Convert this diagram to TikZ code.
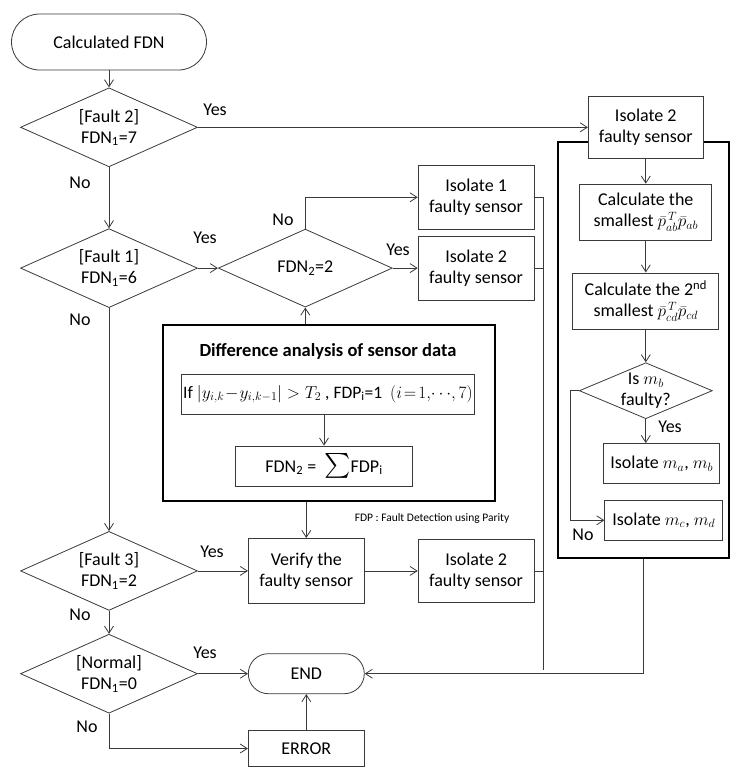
\documentclass[tikz,border=0pt]{standalone}
\usepackage{fontspec}
\setmainfont{Carlito}
\usepackage{amsmath}
\usetikzlibrary{arrows.meta,positioning,shapes.geometric}
\definecolor{ink}{HTML}{3A3A3A}
\tikzset{
  terminal/.style={draw=ink,line width=0.8pt,rounded corners=20pt,fill=white,
                   minimum width=116pt,minimum height=40pt,inner sep=0pt,align=center},
  process/.style={draw=ink,line width=0.8pt,fill=white,minimum width=116pt,
                  minimum height=64pt,inner sep=0pt,align=center},
  decision/.style={diamond,draw=ink,line width=0.8pt,fill=white,minimum width=177pt,
                   minimum height=79pt,aspect=2.24,inner sep=-8pt,align=center},
  frame/.style={draw=black,line width=2pt,inner sep=0pt},
  arrow/.style={-{Straight Barb[length=7pt,width=9pt]},draw=ink,line width=0.8pt},
  link/.style={draw=ink,line width=0.8pt},
  lbl/.style={inner sep=1pt}
}

\begin{document}
\begin{tikzpicture}[x=1pt,y=1pt,font=\fontsize{18}{21}\selectfont]
\useasboundingbox (0,0) rectangle (744,-777);
% left column
\node[terminal,minimum width=195pt,minimum height=56pt,rounded corners=28pt] (start) at (109,-42) {Calculated FDN};
\node[decision,below=17pt of start] (fault2) {[Fault 2]\\FDN\textsubscript{1}=7};
\node[decision,below=61pt of fault2] (fault1) {[Fault 1]\\FDN\textsubscript{1}=6};
\node[decision,below=223pt of fault1] (fault3) {[Fault 3]\\FDN\textsubscript{1}=2};
\node[decision,below=23pt of fault3] (normal) {[Normal]\\FDN\textsubscript{1}=0};
% middle
\node[decision,minimum width=174pt,minimum height=78pt,aspect=2.23,right=20pt of fault1] (fdn2) {FDN\textsubscript{2}=2};
\node[process,right=25pt of fdn2] (isoB) {Isolate 2\\faulty sensor};
\node[process,above=6pt of isoB] (isoA) {Isolate 1\\faulty sensor};
\node[frame,minimum width=332pt,minimum height=176pt] (diff) at (329,-413) {};
\node[font=\fontsize{18.5}{22}\selectfont\bfseries] (title) at (328,-351) {Difference analysis of sensor data};
\node[process,minimum width=293pt,minimum height=40pt,font=\fontsize{17.5}{20}\selectfont] (ifbox) at (328,-394)
  {If $\left|y_{i,k}\!-\!y_{i,k-1}\right|>T_2$ , FDP\textsubscript{i}=1 \ $(i\!=\!1,\!\cdots\!,7)$};
\node[process,minimum width=177pt,minimum height=40pt] (sumbox) at (324,-466)
  {FDN\textsubscript{2} = \ {\fontsize{24}{24}\selectfont$\sum$}FDP\textsubscript{i}};
\node[font=\fontsize{11.5}{14}\selectfont] (note) at (432,-518) {FDP : Fault Detection using Parity};
\node[process,minimum height=65pt,right=50pt of fault3] (verify) {Verify the\\faulty sensor};
\node[process,minimum height=63pt,right=53pt of verify] (isoC) {Isolate 2\\faulty sensor};
\node[terminal,right=50pt of normal] (endn) {END};
\node[process,minimum height=36pt,below=36pt of endn] (error) {ERROR};
% right branch
\node[frame,minimum width=171pt,minimum height=416pt] (bigbox) at (643.5,-350) {};
\node[process,minimum width=115pt,minimum height=62pt,right=390pt of fault2] (isoR) {Isolate 2\\faulty sensor};
\node[process,minimum width=132pt,minimum height=56pt,below=25pt of isoR] (calc1)
  {Calculate the\\smallest $\bar{p}^{\,T}_{ab}\bar{p}_{ab}$};
\node[process,minimum width=146pt,minimum height=56pt,below=32pt of calc1] (calc2)
  {Calculate the 2\textsuperscript{nd}\\smallest $\bar{p}^{\,T}_{cd}\bar{p}_{cd}$};
\node[decision,minimum width=133pt,minimum height=56pt,aspect=2.375,below=33pt of calc2] (isq) {Is $m_b$\\faulty?};
\node[process,minimum height=40pt,below=24pt of isq,xshift=16pt] (isoab) {Isolate $m_a$, $m_b$};
\node[process,minimum width=118pt,minimum height=40pt,below=16pt of isoab,xshift=2pt] (isocd) {Isolate $m_c$, $m_d$};
% labels
\node[lbl] (y1) at (215,-110) {Yes};
\node[lbl] (n1) at (80,-183) {No};
\node[lbl] (y2) at (205,-238) {Yes};
\node[lbl] (n2) at (283,-220) {No};
\node[lbl] (y3) at (398,-250) {Yes};
\node[lbl] (n3) at (80,-320) {No};
\node[lbl] (y4) at (212,-552) {Yes};
\node[lbl] (n4) at (80,-615) {No};
\node[lbl] (y5) at (205,-653) {Yes};
\node[lbl] (n5) at (87,-727) {No};
\node[lbl] (y6) at (670,-427) {Yes};
\node[lbl] (n6) at (583,-535) {No};
% connectors
\draw[arrow] (start) -- (fault2);
\draw[arrow] (fault2) -- (fault1);
\draw[arrow] (fault1) -- (fault3);
\draw[arrow] (fault3) -- (normal);
\draw[arrow] (fault2) -- (isoR);
\draw[arrow] (fault1) -- (fdn2);
\draw[arrow] (fdn2.north) |- (isoA.west);
\draw[arrow] (fdn2) -- (isoB);
\draw[arrow] (diff.north -| fdn2.south) -- (fdn2.south);
\draw[arrow] (ifbox.south -| sumbox.north) -- (sumbox.north);
\draw[arrow] (diff.south -| verify.north) -- (verify.north);
\draw[arrow] (fault3) -- (verify);
\draw[arrow] (verify) -- (isoC);
\draw[arrow] (normal) -- (endn);
\draw[arrow] (normal.south) |- (error.west);
\draw[arrow] (error) -- (endn);
\coordinate (join) at (543,-670);
\draw[link] (isoA.east) -| (join);
\draw[link] (isoB.east) -| (join);
\draw[link] (isoC.east) -| (join);
\draw[arrow] (bigbox.south) |- (endn.east);
\draw[arrow] (isoR) -- (calc1);
\draw[arrow] (calc1) -- (calc2);
\draw[arrow] (calc2) -- (isq);
\draw[arrow] (isq.south) -- (isq.south |- isoab.north);
\draw[arrow] (isq.west) -- ++(-9,0) |- (isocd.west);
\end{tikzpicture}
\end{document}
